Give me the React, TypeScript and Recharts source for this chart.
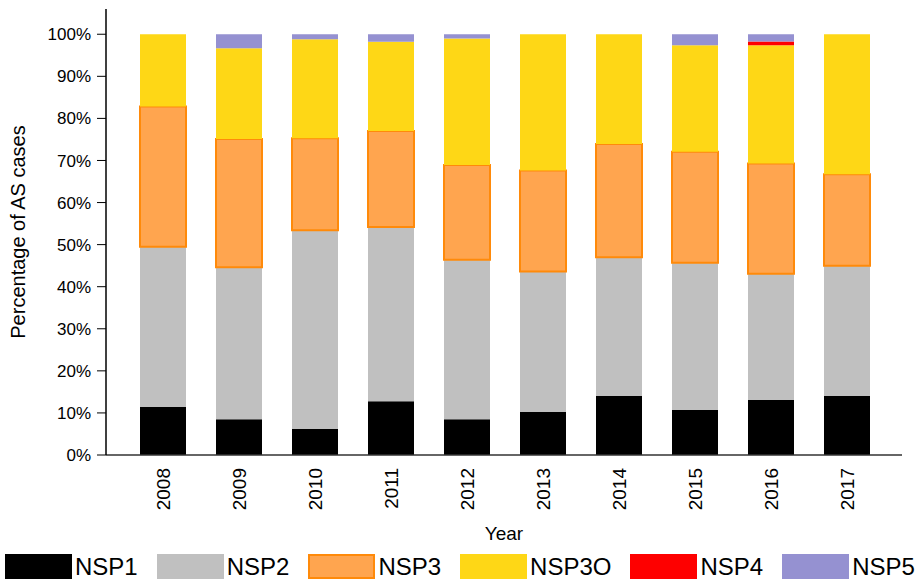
import React from 'react'
import { BarChart, Bar, XAxis, YAxis, Legend, Label } from 'recharts'

const years = ['2008', '2009', '2010', '2011', '2012', '2013', '2014', '2015', '2016', '2017']

// share of AS cases (%) per NSP type
const nsp1 = [11.4, 8.5, 6.2, 12.8, 8.5, 10.2, 14.0, 10.7, 13.1, 14.0]
const nsp2 = [38.1, 36.1, 47.2, 41.4, 37.9, 33.4, 33.0, 35.0, 30.0, 31.0]
const nsp3 = [33.3, 30.5, 21.9, 22.8, 22.5, 24.0, 26.9, 26.4, 26.2, 21.7]
const nsp3o = [17.2, 21.6, 23.5, 21.2, 30.1, 32.4, 26.1, 25.3, 28.1, 33.3]
const nsp4 = [0, 0, 0, 0, 0, 0, 0, 0, 0.9, 0]
const nsp5 = [0, 3.3, 1.2, 1.8, 1.0, 0, 0, 2.6, 1.7, 0]

const yTicks = [0, 10, 20, 30, 40, 50, 60, 70, 80, 90, 100]

const SERIES = [
  { key: 'NSP1', fill: '#000000', stroke: 'none' },
  { key: 'NSP2', fill: '#c0c0c0', stroke: 'none' },
  { key: 'NSP3', fill: '#ffa54f', stroke: '#ff8a0a' },
  { key: 'NSP3O', fill: '#fed716', stroke: 'none' },
  { key: 'NSP4', fill: '#fe0000', stroke: 'none' },
  { key: 'NSP5', fill: '#9591d1', stroke: 'none' },
]

const data = years.map((year, i) => ({
  year,
  NSP1: nsp1[i],
  NSP2: nsp2[i],
  NSP3: nsp3[i],
  NSP3O: nsp3o[i],
  NSP4: nsp4[i],
  NSP5: nsp5[i],
}))

const FONT = '"Liberation Sans", Arial, sans-serif'

function YearTick({ x, y, payload }: any) {
  const ty = Number(y) + 11
  return (
    <text
      x={x}
      y={ty}
      transform={`rotate(-90, ${x}, ${ty})`}
      textAnchor="end"
      dominantBaseline="central"
      fontSize={19}
      fontFamily={FONT}
      fill="#000"
    >
      {payload.value}
    </text>
  )
}

function LegendBoxes() {
  return (
    <div style={{ display: 'flex', height: 34, paddingTop: 4, paddingLeft: 5, boxSizing: 'border-box', fontFamily: FONT }}>
      {SERIES.map((s) => (
        <div key={s.key} style={{ display: 'flex', alignItems: 'center', marginRight: 19, height: 25 }}>
          <div
            style={{
              width: 67,
              height: 25,
              boxSizing: 'border-box',
              background: s.fill,
              border: s.stroke === 'none' ? 'none' : `2px solid ${s.stroke}`,
            }}
          />
          <span style={{ fontSize: 24, lineHeight: '25px', marginLeft: 3, color: '#000' }}>{s.key}</span>
        </div>
      ))}
    </div>
  )
}

export default function App() {
  return (
    <div style={{ position: 'absolute', left: 0, top: 0, width: 917, height: 584, background: '#fff' }}>
      <BarChart
        width={917}
        height={584}
        data={data}
        margin={{ top: 9, right: 15, bottom: 0, left: 0 }}
      >
        <XAxis
          dataKey="year"
          padding={{ left: 19, right: 17 }}
          height={95}
          tickLine={false}
          tickSize={0}
          tick={<YearTick />}
          axisLine={{ stroke: '#333333', strokeWidth: 1.5 }}
          interval={0}
        >
          <Label value="Year" position="insideBottom" offset={10} fontSize={19} fontFamily={FONT} fill="#000" />
        </XAxis>
        <YAxis
          width={106}
          domain={[0, 106]}
          ticks={yTicks}
          tickFormatter={(v) => `${v}%`}
          tickSize={9}
          tickMargin={6}
          tick={{ fontSize: 17, fill: '#000', fontFamily: FONT }}
          tickLine={{ stroke: '#000' }}
          axisLine={{ stroke: '#000', strokeWidth: 1.5 }}
          allowDataOverflow
        >
          <Label
            content={() => (
              <text
                x={18}
                y={232}
                transform="rotate(-90, 18, 232)"
                textAnchor="middle"
                dominantBaseline="central"
                fontSize={20}
                fontFamily={FONT}
                fill="#000"
              >
                Percentage of AS cases
              </text>
            )}
          />
        </YAxis>
        <Legend
          verticalAlign="bottom"
          align="left"
          wrapperStyle={{ left: 0, bottom: 0, width: 917 }}
          content={() => <LegendBoxes />}
        />
        {SERIES.map((s) => (
          <Bar
            key={s.key}
            dataKey={s.key}
            stackId="a"
            fill={s.fill}
            stroke={s.stroke}
            strokeWidth={s.stroke === 'none' ? 0 : 2}
            barSize={46}
            isAnimationActive={false}
          />
        ))}
      </BarChart>
    </div>
  )
}
